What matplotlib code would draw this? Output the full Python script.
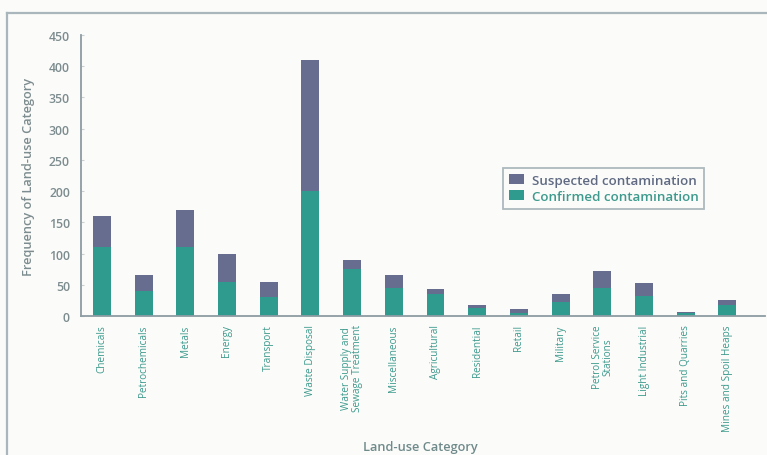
import matplotlib
matplotlib.use("Agg")
import matplotlib.pyplot as plt
from matplotlib.lines import Line2D
import numpy as np

categories = [
    "Chemicals", "Petrochemicals", "Metals", "Energy", "Transport",
    "Waste Disposal", "Water Supply and\nSewage Treatment", "Miscellaneous",
    "Agricultural", "Residential", "Retail", "Military",
    "Petrol Service\nStations", "Light Industrial", "Pits and Quarries",
    "Mines and Spoil Heaps",
]
confirmed = [110, 40, 110, 55, 30, 200, 75, 45, 35, 13, 5, 22, 45, 32, 5, 18]
suspected = [50, 25, 60, 45, 25, 210, 15, 20, 8, 5, 6, 13, 27, 21, 2, 8]
yticks = [0, 50, 100, 150, 200, 250, 300, 350, 400, 450]

plt.rcParams["font.family"] = ["Open Sans", "DejaVu Sans"]

SUSP = "#676d8e"
CONF = "#2f9b8f"
AXIS = "#8d9ca3"
TICKTXT = "#7d8c8e"
XTXT = "#3d9a8c"

fig = plt.figure(figsize=(7.67, 4.56), dpi=100)
fig.patch.set_facecolor("#fbfbfa")

# outer frame lines (top and left)
fig.add_artist(Line2D([7 / 767, 1.0], [1 - 14 / 456, 1 - 14 / 456],
                      transform=fig.transFigure, color="#a9b7bd", lw=1.6))
fig.add_artist(Line2D([7 / 767, 7 / 767], [1 - 14 / 456, 0.0],
                      transform=fig.transFigure, color="#a9b7bd", lw=1.6))

ax = fig.add_axes([81 / 767, 1 - 317 / 456, (765 - 81) / 767, (317 - 36) / 456])
ax.set_facecolor("#fbfbfa")

x = np.arange(len(categories))
w = 0.43
ax.bar(x, confirmed, width=w, color=CONF, label="Confirmed contamination", zorder=2)
ax.bar(x, suspected, width=w, bottom=confirmed, color=SUSP,
       label="Suspected contamination", zorder=2)

ax.set_xlim(-0.5, 15.9)
ax.set_ylim(0, 450)
ax.set_yticks(yticks)
ax.set_yticklabels([str(v) for v in yticks], fontsize=8.8, color=TICKTXT,
                   fontweight="semibold")
ax.tick_params(axis="y", direction="in", length=2, width=0.8, color="#c8d0d3", pad=8)
ax.set_xticks(x)
ax.set_xticklabels(categories, rotation=90, fontsize=7.2, color=XTXT,
                   ha="center", va="top", linespacing=0.95)
ax.tick_params(axis="x", length=0, pad=6)

for s in ["top", "right"]:
    ax.spines[s].set_visible(False)
for s in ["left", "bottom"]:
    ax.spines[s].set_color(AXIS)
    ax.spines[s].set_linewidth(1.3)

ax.set_ylabel("Frequency of Land-use Category", fontsize=9.2, color=TICKTXT,
              fontweight="semibold", labelpad=10)
fig.text(420 / 767, 1 - 448 / 456, "Land-use Category", ha="center", va="center",
         fontsize=9.2, color="#6f8a8a", fontweight="semibold")

handles, labels = ax.get_legend_handles_labels()
leg = ax.legend(handles[::-1], labels[::-1], loc="upper left",
                bbox_to_anchor=(0.617, 0.527), borderaxespad=0,
                frameon=True, fancybox=False,
                handlelength=1.1, handleheight=0.8,
                handletextpad=0.6, borderpad=0.45, labelspacing=0.2,
                prop={"weight": "semibold", "size": 9.6})
leg.get_frame().set_edgecolor("#9aa9af")
leg.get_frame().set_linewidth(1.3)
leg.get_frame().set_facecolor("#fbfbfa")
leg.get_texts()[0].set_color("#5f6a82")
leg.get_texts()[1].set_color(XTXT)

fig.savefig("out.png", dpi=100, facecolor=fig.get_facecolor())
